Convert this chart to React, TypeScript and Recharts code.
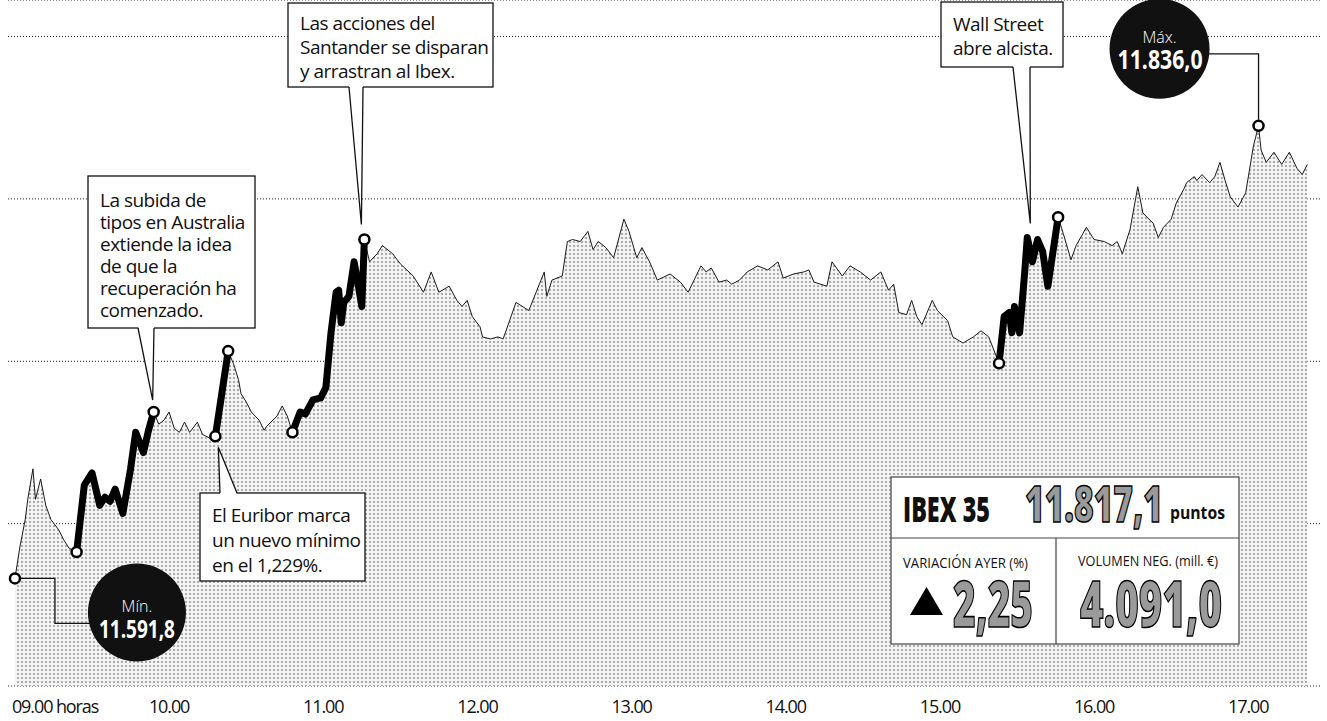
import React from 'react';
import { ComposedChart, Area, Line, XAxis, YAxis, CartesianGrid, ReferenceDot } from 'recharts';

// minutes after 09.00
const minutes = [
  0, 2, 4, 5, 7, 8, 10, 12, 14, 17, 19, 21, 24, 27, 30, 33, 35, 37, 39, 42, 45, 47, 50, 52, 54,
  56, 58, 60, 62, 64, 66, 68, 71, 73, 76, 78, 83, 85, 87, 88, 90, 92, 95, 97, 98, 102, 104, 106,
  108, 111, 113, 116, 119, 121, 123, 125, 126, 127, 128, 130, 132, 133, 135, 136, 138, 141, 143,
  147, 150, 155, 159, 162, 165, 169, 172, 174, 176, 178, 181, 182, 185, 188, 190, 195, 200, 206,
  207, 209, 213, 215, 217, 220, 223, 225, 227, 230, 233, 237, 239, 242, 244, 247, 250, 255, 259,
  262, 267, 269, 271, 274, 277, 279, 282, 285, 289, 293, 297, 299, 303, 307, 309, 311, 316, 318,
  322, 325, 329, 333, 337, 340, 342, 344, 347, 349, 351, 353, 357, 359, 363, 365, 369, 373, 376,
  379, 383, 385, 387, 388, 389, 391, 393, 394, 396, 398, 400, 402, 406, 408, 411, 413, 417, 420,
  424, 427, 429, 431, 434, 437, 439, 443, 445, 447, 450, 452, 455, 456, 459, 460, 462, 465, 467,
  469, 471, 473, 476, 479, 482, 484, 485, 487, 490, 493, 496, 499, 501, 503,
];

const values = [
  11613, 11629, 11642, 11652, 11667, 11652, 11662, 11649, 11642, 11637, 11632, 11628, 11626, 11659,
  11665, 11649, 11653, 11651, 11657, 11645, 11667, 11685, 11675, 11686, 11695,
  11689, 11691, 11695, 11687, 11685, 11690, 11685, 11690, 11684, 11682, 11683, 11725, 11719, 11711,
  11704, 11700, 11695, 11691, 11686, 11688, 11693, 11698, 11693,
  11685, 11695, 11694, 11701, 11702, 11707, 11734, 11754, 11755, 11739, 11749, 11752, 11769, 11762,
  11747, 11780, 11769, 11773, 11777,
  11773, 11768, 11762, 11754, 11764, 11754, 11757, 11750, 11747, 11750, 11742, 11737, 11732, 11731,
  11732, 11731, 11749, 11745, 11764,
  11752, 11760, 11762, 11779, 11780, 11779, 11784, 11775, 11779, 11776, 11771, 11790, 11784, 11771,
  11776, 11769, 11760, 11763, 11759,
  11754, 11767, 11764, 11766, 11759, 11760, 11758, 11760, 11764, 11767, 11765, 11769, 11761, 11763,
  11764, 11765, 11759, 11757, 11769,
  11762, 11767, 11764, 11760, 11764, 11755, 11758, 11744, 11743, 11750, 11742, 11738, 11750, 11745,
  11740, 11732, 11729, 11732, 11735,
  11732, 11719, 11742, 11744, 11734, 11747, 11734, 11764, 11781, 11769, 11780, 11774, 11757, 11791,
  11783, 11770, 11777, 11786, 11780,
  11779, 11777, 11779, 11773, 11785, 11806, 11793, 11788, 11781, 11786, 11790, 11798, 11805, 11808,
  11811, 11809, 11812, 11808, 11811,
  11818, 11809, 11801, 11796, 11803, 11826, 11836, 11824, 11818, 11823, 11817, 11823, 11815, 11812,
  11817,
];

// thick black stretches and the open circles
const highlightRanges: [number, number][] = [[24, 54], [78, 83], [108, 136], [383, 406]];
const markerMinutes = [0, 24, 54, 78, 83, 108, 136, 383, 406, 484];

const hourTicks = [0, 60, 120, 180, 240, 300, 360, 420, 480];
const hourLabels = ['09.00 horas', '10.00', '11.00', '12.00', '13.00', '14.00', '15.00', '16.00', '17.00'];
const yTicks = [11560, 11640, 11720, 11800, 11880];

const minLabel = '11.591,8';
const maxLabel = '11.836,0';
const closeLabel = '11.817,1';
const changeLabel = '2,25';
const volumeLabel = '4.091,0';

const FONT = "'Open Sans', sans-serif";

const data = minutes.map((t, i) => {
  const v = values[i];
  const inHl = highlightRanges.some(([a, b]) => t >= a && t <= b);
  return { t, v, hl: inHl ? v : null, mk: markerMinutes.includes(t) ? v : null };
});
const valueAt = (t: number) => values[minutes.indexOf(t)];

const fmtThousands = (v: number) => `${Math.floor(v / 1000)}.${String(v % 1000).padStart(3, '0')}`;

type Callout = {
  at: number;
  lines: string[];
  box: { x: number; y: number; w: number; h: number };
  first: number;
  gap: number;
  base: [number, number];
  tip: [number, number];
};

const callouts: Callout[] = [
  {
    at: 54,
    lines: ['La subida de', 'tipos en Australia', 'extiende la idea', 'de que la', 'recuperación ha', 'comenzado.'],
    box: { x: 88, y: 176, w: 167, h: 152 }, first: 207, gap: 22, base: [138, 154], tip: [-1, -12],
  },
  {
    at: 136,
    lines: ['Las acciones del', 'Santander se disparan', 'y arrastran al Ibex.'],
    box: { x: 288, y: 3, w: 205, h: 84 }, first: 30, gap: 24, base: [349, 363], tip: [-3, -15],
  },
  {
    at: 394,
    lines: ['Wall Street', 'abre alcista.'],
    box: { x: 941, y: 2, w: 122, h: 65 }, first: 31, gap: 24, base: [1013, 1030], tip: [3, -14],
  },
  {
    at: 78,
    lines: ['El Euribor marca', 'un nuevo mínimo', 'en el 1,229%.'],
    box: { x: 200, y: 493, w: 165, h: 88 }, first: 522, gap: 25, base: [220, 237], tip: [3, 11],
  },
];

const CalloutShape = ({ cx, cy, c }: { cx: number; cy: number; c: Callout }) => {
  const tx = cx + c.tip[0];
  const ty = cy + c.tip[1];
  const top = ty < c.box.y;
  const by = top ? c.box.y : c.box.y + c.box.h;
  const inner = top ? by + 1.5 : by - 1.5;
  return (
    <g>
      <rect x={c.box.x} y={c.box.y} width={c.box.w} height={c.box.h} fill="#fff" stroke="#111" strokeWidth={1.3} />
      <polygon points={`${c.base[0]},${inner} ${tx},${ty} ${c.base[1]},${inner}`} fill="#fff" />
      <polyline points={`${c.base[0]},${by} ${tx},${ty} ${c.base[1]},${by}`} fill="none" stroke="#111" strokeWidth={1.3} />
      {c.lines.map((l, i) => (
        <text key={i} x={c.box.x + 12} y={c.first + i * c.gap} fontFamily={FONT} fontSize={19} letterSpacing={-0.5} fill="#111">
          {l}
        </text>
      ))}
    </g>
  );
};

const MinShape = ({ cx, cy }: { cx: number; cy: number }) => {
  const ccx = cx + 122;
  const ccy = cy + 34;
  return (
    <g>
      <path d={`M${cx + 6},${cy} H${cx + 40} V${cy + 45} H${ccx - 45}`} fill="none" stroke="#111" strokeWidth={1.3} />
      <circle cx={ccx} cy={ccy} r={49} fill="#111" />
      <text x={ccx} y={cy + 34} textAnchor="middle" fontFamily={FONT} fontSize={16} fontWeight={300} fill="#fff">Mín.</text>
      <text x={ccx - 38} y={cy + 60} fontFamily={FONT} fontSize={25} fontWeight={700} fill="#fff" textLength={76} lengthAdjust="spacingAndGlyphs">{minLabel}</text>
    </g>
  );
};

const MaxShape = ({ cx, cy }: { cx: number; cy: number }) => {
  const ccx = cx - 99;
  const ccy = cy - 77;
  return (
    <g>
      <path d={`M${cx},${cy - 6} V${cy - 72} H${ccx + 49}`} fill="none" stroke="#111" strokeWidth={1.3} />
      <circle cx={ccx} cy={ccy} r={50} fill="#111" />
      <text x={ccx} y={cy - 83} textAnchor="middle" fontFamily={FONT} fontSize={16} fontWeight={300} fill="#fff">Máx.</text>
      <text x={ccx - 42} y={cy - 57} fontFamily={FONT} fontSize={27} fontWeight={700} fill="#fff" textLength={85} lengthAdjust="spacingAndGlyphs">{maxLabel}</text>
    </g>
  );
};

const YTick = ({ y, payload }: any) => (
  <text x={10} y={y - 7} fontFamily={FONT} fontSize={14} fill="#111" textAnchor="start">
    {fmtThousands(payload.value)}
  </text>
);

const XTick = ({ x, y, payload }: any) => {
  const i = hourTicks.indexOf(payload.value);
  const first = i === 0;
  return (
    <text x={first ? x - 3 : x} y={y + 19} textAnchor={first ? 'start' : 'middle'} fontFamily={FONT} fontSize={18} letterSpacing={-1.1} fill="#111">
      {hourLabels[i]}
    </text>
  );
};

const InfoPanel = () => (
  <svg width={1327} height={721} style={{ position: 'absolute', left: 0, top: 0, pointerEvents: 'none' }}>
    <g fontFamily={FONT} fill="#111">
      <rect x={891} y={477} width={348} height={167} fill="#fff" stroke="#444" strokeWidth={1.2} />
      <line x1={891} y1={538} x2={1239} y2={538} stroke="#444" strokeWidth={1.2} />
      <line x1={1056} y1={538} x2={1056} y2={644} stroke="#444" strokeWidth={1.2} />
      <text x={903} y={522} fontSize={35} fontWeight={800} textLength={87} lengthAdjust="spacingAndGlyphs">IBEX 35</text>
      <text x={1025} y={522} fontSize={49} fontWeight={800} textLength={138} lengthAdjust="spacingAndGlyphs" fill="#9a9a9a" stroke="#000" strokeWidth={1.6}>{closeLabel}</text>
      <text x={1170} y={519} fontSize={17} fontWeight={700} textLength={55} lengthAdjust="spacingAndGlyphs">puntos</text>
      <text x={903} y={568} fontSize={15} textLength={125} lengthAdjust="spacingAndGlyphs">VARIACIÓN AYER (%)</text>
      <polygon points="910,615 943,615 926.5,587" fill="#000" />
      <text x={953} y={627} fontSize={63} fontWeight={800} textLength={80} lengthAdjust="spacingAndGlyphs" fill="#9a9a9a" stroke="#000" strokeWidth={1.6}>{changeLabel}</text>
      <text x={1078} y={566} fontSize={15} textLength={140} lengthAdjust="spacingAndGlyphs">VOLUMEN NEG. (mill. €)</text>
      <text x={1080} y={627} fontSize={63} fontWeight={800} textLength={142} lengthAdjust="spacingAndGlyphs" fill="#9a9a9a" stroke="#000" strokeWidth={1.6}>{volumeLabel}</text>
    </g>
  </svg>
);

export default function App() {
  return (
    <div style={{ position: 'absolute', left: 0, top: 0, width: 1327, height: 721, background: '#fff' }}>
      <ComposedChart width={1327} height={721} data={data} margin={{ top: 0, right: 5, left: 8, bottom: 0 }}>
        <defs>
          <pattern id="halftone" width="4" height="4" patternUnits="userSpaceOnUse">
            <rect width="4" height="4" fill="#f3f3f3" />
            <circle cx="2" cy="2" r="0.9" fill="#8a8a8a" />
          </pattern>
        </defs>
        <CartesianGrid vertical={false} stroke="#222" strokeDasharray="1 2" />
        <XAxis
          dataKey="t"
          type="number"
          domain={[-2.7, 508.7]}
          ticks={hourTicks}
          axisLine={false}
          tickLine={false}
          height={35}
          tick={<XTick />}
          interval={0}
        />
        <YAxis
          type="number"
          domain={[11560, 11898]}
          ticks={yTicks}
          width={0}
          axisLine={false}
          tickLine={false}
          tick={<YTick />}
          interval={0}
        />
        <Area
          type="linear"
          dataKey="v"
          stroke="#1a1a1a"
          strokeWidth={1}
          fill="url(#halftone)"
          fillOpacity={1}
          baseValue="dataMin"
          isAnimationActive={false}
          dot={false}
          activeDot={false}
        />
        <Line
          type="linear"
          dataKey="hl"
          stroke="#000"
          strokeWidth={7}
          strokeLinejoin="round"
          strokeLinecap="round"
          connectNulls={false}
          dot={false}
          activeDot={false}
          isAnimationActive={false}
        />
        <Line
          type="linear"
          dataKey="mk"
          stroke="none"
          connectNulls={false}
          dot={{ r: 5, fill: '#fff', stroke: '#000', strokeWidth: 2.5 }}
          activeDot={false}
          isAnimationActive={false}
        />
        {callouts.map((c) => (
          <ReferenceDot
            key={c.at}
            x={c.at}
            y={valueAt(c.at)}
            r={0}
            ifOverflow="visible"
            shape={(p: any) => <CalloutShape cx={p.cx} cy={p.cy} c={c} />}
          />
        ))}
        <ReferenceDot x={0} y={valueAt(0)} r={0} ifOverflow="visible" shape={(p: any) => <MinShape cx={p.cx} cy={p.cy} />} />
        <ReferenceDot x={484} y={valueAt(484)} r={0} ifOverflow="visible" shape={(p: any) => <MaxShape cx={p.cx} cy={p.cy} />} />
      </ComposedChart>
      <InfoPanel />
    </div>
  );
}
